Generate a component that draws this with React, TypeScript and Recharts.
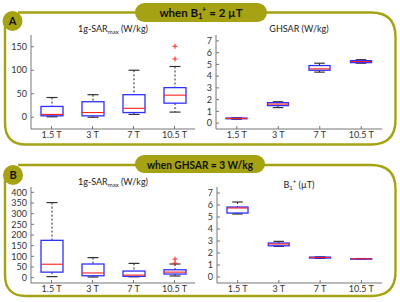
import React from "react";
import { Bar, ComposedChart, XAxis, YAxis } from "recharts";

const categories = ["1.5 T", "3 T", "7 T", "10.5 T"];

// panel A, 1g-SARmax (W/kg) when B1+ = 2 uT
const sarALow = [1, 0, 6, 11];
const sarAQ1 = [3, 3, 10, 30];
const sarAMed = [6, 10, 19, 47];
const sarAQ3 = [23, 33, 48, 63];
const sarAHigh = [42, 48, 100, 108];
const sarAOut = [[], [], [], [124, 151]];

// panel A, GHSAR (W/kg)
const ghLow = [0.33, 1.32, 4.34, 5.1];
const ghQ1 = [0.37, 1.49, 4.5, 5.15];
const ghMed = [0.4, 1.62, 4.62, 5.24];
const ghQ3 = [0.43, 1.74, 4.9, 5.32];
const ghHigh = [0.46, 1.82, 5.1, 5.4];

// panel B, 1g-SARmax (W/kg) when GHSAR = 3 W/kg
const sarBLow = [5, 3, 4, 8];
const sarBQ1 = [26, 9, 6, 17];
const sarBMed = [63, 22, 12, 26];
const sarBQ3 = [175, 64, 31, 37];
const sarBHigh = [352, 94, 67, 64];
const sarBOut = [[], [], [], [68, 87]];

// panel B, B1+ (uT)
const b1Low = [5.25, 2.55, 1.55, 1.5];
const b1Q1 = [5.33, 2.6, 1.58, 1.51];
const b1Med = [5.75, 2.75, 1.62, 1.52];
const b1Q3 = [5.83, 2.83, 1.66, 1.53];
const b1High = [6.25, 2.97, 1.68, 1.54];

const sarATicks = [0, 50, 100, 150];
const sarBTicks = [0, 50, 100, 150, 200, 250, 300, 350, 400];
const smallTicks = [0, 1, 2, 3, 4, 5, 6, 7];

const OLIVE = "#a5a213";
const FONT = "Lato, 'Open Sans', sans-serif";

const buildRows = (
  lo: number[],
  q1: number[],
  med: number[],
  q3: number[],
  hi: number[],
  out?: number[][]
) =>
  categories.map((cat, i) => ({
    cat,
    range: [lo[i], hi[i]],
    q1: q1[i],
    med: med[i],
    q3: q3[i],
    outliers: out ? out[i] : [],
  }));

// draws the whole box from the bar's [low, high] rect, using the same linear scale
const BoxShape = (props: any) => {
  const { x, y, width, height, payload } = props;
  const [lo, hi] = payload.range;
  const top = Math.min(y, y + height);
  const bottom = Math.max(y, y + height);
  const py = (v: number) => bottom - ((bottom - top) * (v - lo)) / (hi - lo);
  const cx = x + width / 2;
  const cap = width / 4;
  const yq1 = py(payload.q1);
  const yq3 = py(payload.q3);
  return (
    <g>
      <line x1={cx} x2={cx} y1={py(hi)} y2={yq3} stroke="#222" strokeDasharray="2 2" />
      <line x1={cx} x2={cx} y1={yq1} y2={py(lo)} stroke="#222" strokeDasharray="2 2" />
      <line x1={cx - cap} x2={cx + cap} y1={py(hi)} y2={py(hi)} stroke="#333" strokeWidth={1.2} />
      <line x1={cx - cap} x2={cx + cap} y1={py(lo)} y2={py(lo)} stroke="#333" strokeWidth={1.2} />
      <rect
        x={x}
        y={yq3}
        width={width}
        height={Math.max(yq1 - yq3, 0.5)}
        fill="none"
        stroke="#2f2fff"
        strokeWidth={1.3}
      />
      <line
        x1={x}
        x2={x + width}
        y1={py(payload.med)}
        y2={py(payload.med)}
        stroke="#ff2020"
        strokeWidth={1.1}
      />
      {payload.outliers.map((v: number, k: number) => (
        <g key={k} stroke="#ff2020" strokeWidth={1}>
          <line x1={cx - 2.5} x2={cx + 2.5} y1={py(v)} y2={py(v)} />
          <line x1={cx} x2={cx} y1={py(v) - 2.5} y2={py(v) + 2.5} />
        </g>
      ))}
    </g>
  );
};

const emptyTick = () => <g />;

function BoxPanel({
  rows,
  domain,
  ticks,
  width,
  height,
  yWidth,
  right,
  boxSize,
}: any) {
  return (
    <ComposedChart
      width={width}
      height={height}
      data={rows}
      margin={{ top: 5, right, bottom: 0, left: 0 }}
    >
      <XAxis
        dataKey="cat"
        height={16}
        tickSize={-3}
        tickMargin={5.5}
        tick={{ fontSize: 9, fill: "#333", fontFamily: FONT }}
        axisLine={{ stroke: "#777" }}
        tickLine={{ stroke: "#777" }}
        interval={0}
      />
      <XAxis
        xAxisId="top"
        dataKey="cat"
        orientation="top"
        height={0}
        tickSize={-3}
        tick={emptyTick}
        axisLine={{ stroke: "#777" }}
        tickLine={{ stroke: "#777" }}
        interval={0}
      />
      <YAxis
        type="number"
        domain={domain}
        ticks={ticks}
        allowDataOverflow
        width={yWidth}
        tickSize={-3}
        tickMargin={7}
        tick={{ fontSize: 9, fill: "#333", fontFamily: FONT }}
        axisLine={{ stroke: "#777" }}
        tickLine={{ stroke: "#777" }}
        interval={0}
      />
      <YAxis
        yAxisId="r"
        orientation="right"
        type="number"
        domain={domain}
        ticks={ticks}
        allowDataOverflow
        width={0}
        tickSize={-3}
        tick={emptyTick}
        axisLine={{ stroke: "#777" }}
        tickLine={{ stroke: "#777" }}
        interval={0}
      />
      <Bar dataKey="range" barSize={boxSize} shape={<BoxShape />} isAnimationActive={false} />
    </ComposedChart>
  );
}

const titleStyle = (left: number, top: number): React.CSSProperties => ({
  position: "absolute",
  left: left - 80,
  top,
  width: 160,
  textAlign: "center",
  fontSize: 9,
  lineHeight: "12px",
  color: "#222",
  fontFamily: FONT,
});

const subStyle: React.CSSProperties = { fontSize: 6, verticalAlign: "-2px" };
const supStyle: React.CSSProperties = { fontSize: 6, verticalAlign: "4px" };

export default function App() {
  const rowsSarA = buildRows(sarALow, sarAQ1, sarAMed, sarAQ3, sarAHigh, sarAOut);
  const rowsGh = buildRows(ghLow, ghQ1, ghMed, ghQ3, ghHigh);
  const rowsSarB = buildRows(sarBLow, sarBQ1, sarBMed, sarBQ3, sarBHigh, sarBOut);
  const rowsB1 = buildRows(b1Low, b1Q1, b1Med, b1Q3, b1High);

  return (
    <div
      style={{
        position: "absolute",
        left: 0,
        top: 0,
        width: 400,
        height: 302,
        background: "#fff",
        fontFamily: FONT,
        overflow: "hidden",
      }}
    >
      {/* olive frames, badges and headers */}
      <svg width={400} height={302} style={{ position: "absolute", left: 0, top: 0 }}>
        <g fill="none" stroke={OLIVE} strokeWidth={2.4}>
          <path d="M 18 12.5 H 371 Q 395.5 12.5 395.5 37 V 120 Q 395.5 144.5 371 144.5 H 26 Q 5 144.5 5 123 V 24" />
          <path d="M 18 165 H 371 Q 395.5 165 395.5 189 V 272 Q 395.5 296 371 296 H 26 Q 5 296 5 275 V 177" />
        </g>
        <circle cx={12.5} cy={21} r={10} fill={OLIVE} />
        <circle cx={13} cy={175} r={10} fill={OLIVE} />
        <text x={12.5} y={25} textAnchor="middle" fontSize={11} fontWeight="bold" fill="#111" fontFamily={FONT}>
          A
        </text>
        <text x={13} y={179} textAnchor="middle" fontSize={11} fontWeight="bold" fill="#111" fontFamily={FONT}>
          B
        </text>
        <rect x={135} y={3} width={132} height={19} rx={9.5} fill={OLIVE} />
        <rect x={135} y={155} width={130} height={18} rx={9} fill={OLIVE} />
        <text x={201} y={17} textAnchor="middle" fontSize={11.5} fontWeight="bold" fill="#111" fontFamily={FONT}>
          <tspan>when B</tspan>
          <tspan fontSize={8} dy={2}>1</tspan>
          <tspan fontSize={8} dx={-1} dy={-7}>+</tspan>
          <tspan dy={5}> = 2 µT</tspan>
        </text>
        <text
          x={200}
          y={168.5}
          textAnchor="middle"
          fontSize={11.5}
          fontWeight="bold"
          fill="#111"
          fontFamily={FONT}
          textLength={106}
          lengthAdjust="spacingAndGlyphs"
        >
          when GHSAR = 3 W/kg
        </text>
      </svg>

      {/* panel titles */}
      <div style={titleStyle(113, 23)}>
        1g-SAR<span style={subStyle}>max</span> (W/kg)
      </div>
      <div style={titleStyle(299, 23)}>GHSAR (W/kg)</div>
      <div style={titleStyle(113, 175.5)}>
        1g-SAR<span style={subStyle}>max</span> (W/kg)
      </div>
      <div style={titleStyle(299, 175.5)}>
        B<span style={subStyle}>1</span>
        <span style={supStyle}>+</span> (µT)
      </div>

      <div style={{ position: "absolute", left: 0, top: 30 }}>
        <BoxPanel rows={rowsSarA} domain={[-25, 175]} ticks={sarATicks} width={200} height={115} yWidth={31} right={5} boxSize={22} />
      </div>
      <div style={{ position: "absolute", left: 200, top: 30 }}>
        <BoxPanel rows={rowsGh} domain={[-0.5, 7.5]} ticks={smallTicks} width={200} height={115} yWidth={16} right={18} boxSize={21} />
      </div>
      <div style={{ position: "absolute", left: 0, top: 182 }}>
        <BoxPanel rows={rowsSarB} domain={[-25, 425]} ticks={sarBTicks} width={200} height={117} yWidth={31} right={5} boxSize={22} />
      </div>
      <div style={{ position: "absolute", left: 200, top: 182 }}>
        <BoxPanel rows={rowsB1} domain={[-0.5, 7.5]} ticks={smallTicks} width={200} height={117} yWidth={17} right={18} boxSize={21} />
      </div>
    </div>
  );
}
